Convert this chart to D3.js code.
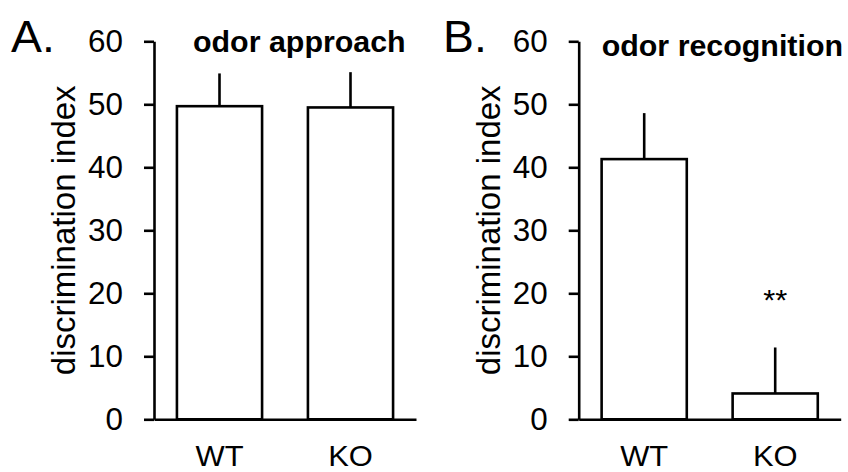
<!DOCTYPE html>
<html lang="en">
<head>
    <meta charset="UTF-8">
    <title>Odor approach / recognition</title>
    <script src="https://d3js.org/d3.v7.min.js"></script>
    <style>
        body { margin: 0; background: #fff; }
        text { font-family: "Liberation Sans", Arial, sans-serif; fill: #000; }
        .axis path, .axis line { stroke: #000; stroke-width: 2.6; }
    </style>
</head>
<body>
    <svg id="chart" width="848" height="472"></svg>
    <script>
        // data
        const groups = ["WT", "KO"];
        const approachMean = [49.7, 49.5];
        const approachErr = [5.2, 5.6];
        const recognitionMean = [41.3, 4.1];
        const recognitionErr = [7.3, 7.3];
        const yTicks = [0, 10, 20, 30, 40, 50, 60];

        const svg = d3.select("#chart");
        svg.append("rect").attr("width", 848).attr("height", 472).attr("fill", "#fff");

        const sx = 1.03; // slight horizontal stretch of the text in the original picture
        const plotTop = 41.3, plotBottom = 419.3, plotW = 262;

        const y = d3.scaleLinear().domain([0, 60]).range([plotBottom, plotTop]);

        const panels = [
            {left: 154, letter: "A.", letterX: 11, title: "odor approach", titleX: 193, titleY: 52,
             mean: approachMean, err: approachErr, star: null},
            {left: 578.7, letter: "B.", letterX: 443, title: "odor recognition", titleX: 601.7, titleY: 56,
             mean: recognitionMean, err: recognitionErr, star: {i: 1, label: "**"}}
        ];

        // horizontally stretched text helper
        function stretchedText(g, x, yPos, str, size, anchor, weight) {
            return g.append("text")
                .attr("transform", `translate(${x},${yPos}) scale(${sx},1)`)
                .attr("text-anchor", anchor || "start")
                .attr("font-size", size)
                .attr("font-weight", weight || "normal")
                .text(str);
        }

        panels.forEach(p => {
            const g = svg.append("g");
            const x = d3.scaleBand().domain(groups)
                .range([p.left, p.left + plotW])
                .paddingInner(0.35).paddingOuter(0.175);

            // bars
            g.selectAll("rect.bar")
                .data(groups)
                .join("rect")
                .attr("class", "bar")
                .attr("x", d => x(d))
                .attr("width", x.bandwidth())
                .attr("y", (d, i) => y(p.mean[i]))
                .attr("height", (d, i) => y(0) - y(p.mean[i]))
                .attr("fill", "#fff")
                .attr("stroke", "#000")
                .attr("stroke-width", 2.6);

            // error bars (upper only, no cap)
            g.selectAll("line.err")
                .data(groups)
                .join("line")
                .attr("class", "err")
                .attr("x1", d => x(d) + x.bandwidth() / 2)
                .attr("x2", d => x(d) + x.bandwidth() / 2)
                .attr("y1", (d, i) => y(p.mean[i]))
                .attr("y2", (d, i) => y(p.mean[i] + p.err[i]))
                .attr("stroke", "#000")
                .attr("stroke-width", 2.6);

            // y axis
            const yAxis = g.append("g")
                .attr("class", "axis")
                .attr("transform", `translate(${p.left},0)`)
                .call(d3.axisLeft(y).tickValues(yTicks).tickSize(10).tickSizeOuter(0).tickPadding(21).tickFormat(d3.format("d")));
            yAxis.selectAll("text").remove();
            yTicks.forEach(t => {
                stretchedText(g, p.left - 31, y(t) + 11, String(t), 30.5, "end");
            });

            // x axis
            const xAxis = g.append("g")
                .attr("class", "axis")
                .attr("transform", `translate(0,${plotBottom})`)
                .call(d3.axisBottom(x).tickSize(0).tickSizeOuter(0));
            xAxis.selectAll("text").remove();
            groups.forEach(d => {
                stretchedText(g, x(d) + x.bandwidth() / 2, 466, d, 30, "middle");
            });

            // y axis title
            g.append("text")
                .attr("transform", `translate(${p.left - 79},${(plotTop + plotBottom) / 2}) rotate(-90)`)
                .attr("text-anchor", "middle")
                .attr("font-size", 33)
                .text("discrimination index");

            // panel letter and title
            stretchedText(g, p.letterX, 52, p.letter, 45);
            stretchedText(g, p.titleX, p.titleY, p.title, 29.5, "start", "bold");

            // significance marker
            if (p.star) {
                const d = groups[p.star.i];
                stretchedText(g, x(d) + x.bandwidth() / 2, 310, p.star.label, 30, "middle");
            }
        });
    </script>
</body>
</html>
